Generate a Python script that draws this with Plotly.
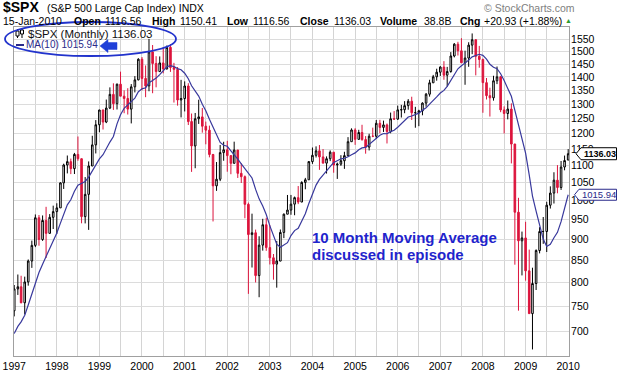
import math
import pandas as pd
import plotly.graph_objects as go

# ---------------- data (monthly $SPX, Jan 1997 .. Jan 2010) ----------------
months = pd.date_range("1997-01-01", "2010-01-01", freq="MS")

opens = [
    740.74, 786.16, 790.82, 757.12, 801.34, 848.28, 885.14, 954.29, 899.47, 947.28, 914.62, 955.40,
    970.43, 980.28, 1049.34, 1101.75, 1111.75, 1090.82, 1133.84, 1120.67, 957.28, 1017.01, 1098.67, 1163.63,
    1229.23, 1279.64, 1238.33, 1286.37, 1335.18, 1301.84, 1372.71, 1328.72, 1320.41, 1282.71, 1362.93, 1388.91,
    1469.25, 1394.46, 1366.42, 1498.58, 1452.43, 1420.60, 1454.60, 1430.83, 1517.68, 1436.52, 1429.40, 1314.95,
    1320.28, 1366.01, 1239.94, 1160.33, 1249.46, 1255.82, 1224.42, 1211.23, 1133.58, 1040.94, 1059.78, 1139.45,
    1148.08, 1130.20, 1106.73, 1147.39, 1076.92, 1067.14, 989.82, 911.62, 916.07, 815.28, 885.76, 936.31,
    879.82, 855.70, 841.15, 848.18, 916.92, 963.59, 974.50, 990.31, 1008.01, 995.97, 1050.71, 1058.20,
    1111.92, 1131.13, 1144.94, 1126.21, 1107.30, 1120.68, 1140.84, 1101.72, 1104.24, 1114.58, 1130.20, 1173.82,
    1211.92, 1181.27, 1203.60, 1180.59, 1156.85, 1191.50, 1191.33, 1234.18, 1220.33, 1228.81, 1207.01, 1249.48,
    1248.29, 1280.08, 1280.66, 1294.83, 1310.61, 1270.09, 1270.20, 1276.66, 1303.82, 1335.85, 1377.94, 1400.63,
    1418.30, 1438.24, 1406.82, 1420.86, 1482.37, 1530.62, 1503.35, 1455.27, 1473.99, 1526.75, 1549.38, 1481.14,
    1468.36, 1378.55, 1330.63, 1322.70, 1385.59, 1400.38, 1280.00, 1267.38, 1282.83, 1166.36, 968.75, 896.24,
    903.25, 825.88, 735.09, 797.87, 872.81, 919.14, 919.32, 987.48, 1020.62, 1057.08, 1036.19, 1095.63,
    1116.56,
]

highs = [
    794.67, 817.68, 814.90, 812.93, 851.87, 896.74, 962.92, 961.49, 960.32, 983.12, 963.90, 986.25,
    992.65, 1051.14, 1105.65, 1130.52, 1121.02, 1138.49, 1190.58, 1121.67, 1066.11, 1112.44, 1192.97, 1244.93,
    1280.37, 1281.21, 1316.55, 1360.94, 1375.98, 1375.06, 1420.33, 1350.02, 1357.74, 1373.17, 1403.27, 1473.10,
    1478.00, 1444.55, 1552.87, 1527.19, 1481.51, 1480.51, 1517.32, 1525.21, 1530.09, 1454.82, 1438.46, 1389.06,
    1383.37, 1376.38, 1267.42, 1269.30, 1315.93, 1286.62, 1239.78, 1226.27, 1135.52, 1110.61, 1163.38, 1173.62,
    1176.55, 1130.20, 1173.94, 1147.84, 1106.59, 1070.74, 994.46, 965.00, 924.02, 907.44, 951.57, 954.28,
    935.05, 864.64, 895.90, 924.24, 965.38, 1015.33, 1015.41, 1011.01, 1040.29, 1053.79, 1063.65, 1112.56,
    1155.38, 1158.98, 1163.23, 1150.57, 1127.74, 1146.34, 1140.84, 1108.96, 1131.54, 1142.05, 1188.46, 1217.33,
    1217.80, 1212.44, 1229.11, 1191.88, 1199.56, 1219.59, 1245.15, 1245.86, 1243.13, 1233.34, 1270.64, 1275.80,
    1294.90, 1297.57, 1310.88, 1318.16, 1326.70, 1290.68, 1280.42, 1306.74, 1340.28, 1389.45, 1407.89, 1431.81,
    1441.61, 1461.57, 1438.89, 1498.02, 1535.56, 1540.56, 1555.90, 1503.89, 1538.74, 1576.09, 1545.79, 1523.57,
    1471.77, 1396.02, 1359.68, 1404.57, 1440.24, 1404.05, 1292.17, 1313.15, 1303.04, 1167.03, 1007.51, 919.05,
    943.85, 875.01, 832.98, 875.63, 930.17, 956.23, 996.68, 1039.47, 1080.15, 1101.36, 1113.69, 1130.38,
    1150.41,
]

lows = [
    729.55, 773.43, 756.13, 733.54, 793.21, 832.57, 880.98, 884.37, 896.00, 855.27, 914.62, 925.52,
    912.83, 980.28, 1032.10, 1076.70, 1074.67, 1074.91, 1114.30, 939.98, 939.71, 923.32, 1098.67, 1136.89,
    1204.46, 1213.39, 1234.66, 1282.80, 1279.95, 1281.41, 1328.72, 1268.37, 1263.91, 1233.70, 1342.35, 1387.37,
    1350.14, 1325.07, 1346.62, 1339.40, 1361.09, 1420.60, 1413.89, 1429.40, 1419.44, 1305.79, 1294.90, 1254.07,
    1274.62, 1228.33, 1081.19, 1091.99, 1232.00, 1203.03, 1165.54, 1124.87, 944.75, 1026.76, 1054.31, 1114.51,
    1081.66, 1074.36, 1106.73, 1063.46, 1048.96, 952.92, 775.68, 833.44, 800.20, 768.63, 872.57, 872.10,
    840.34, 806.29, 788.90, 847.85, 902.83, 963.59, 962.10, 960.84, 990.36, 995.97, 1031.20, 1058.20,
    1105.08, 1124.44, 1087.16, 1107.23, 1076.32, 1113.32, 1078.78, 1060.72, 1099.18, 1090.19, 1127.60, 1173.76,
    1163.75, 1180.95, 1176.92, 1136.15, 1146.18, 1188.30, 1183.55, 1201.07, 1205.35, 1168.20, 1201.07, 1246.59,
    1245.74, 1253.61, 1268.42, 1280.74, 1245.34, 1219.29, 1224.54, 1261.30, 1290.93, 1327.10, 1377.76, 1385.93,
    1403.97, 1389.42, 1363.98, 1416.37, 1476.70, 1484.18, 1454.25, 1370.60, 1439.29, 1489.56, 1406.10, 1435.65,
    1270.05, 1316.75, 1256.98, 1312.75, 1373.07, 1272.00, 1200.44, 1247.45, 1106.42, 839.80, 741.02, 815.69,
    804.22, 734.52, 666.79, 783.94, 866.10, 888.86, 869.32, 978.51, 991.97, 1019.95, 1029.38, 1085.89,
    1116.56,
]

closes = [
    786.16, 790.82, 757.12, 801.34, 848.28, 885.14, 954.29, 899.47, 947.28, 914.62, 955.40, 970.43,
    980.28, 1049.34, 1101.75, 1111.75, 1090.82, 1133.84, 1120.67, 957.28, 1017.01, 1098.67, 1163.63, 1229.23,
    1279.64, 1238.33, 1286.37, 1335.18, 1301.84, 1372.71, 1328.72, 1320.41, 1282.71, 1362.93, 1388.91, 1469.25,
    1394.46, 1366.42, 1498.58, 1452.43, 1420.60, 1454.60, 1430.83, 1517.68, 1436.51, 1429.40, 1314.95, 1320.28,
    1366.01, 1239.94, 1160.33, 1249.46, 1255.82, 1224.42, 1211.23, 1133.58, 1040.94, 1059.78, 1139.45, 1148.08,
    1130.20, 1106.73, 1147.39, 1076.92, 1067.14, 989.82, 911.62, 916.07, 815.28, 885.76, 936.31, 879.82,
    855.70, 841.15, 848.18, 916.92, 963.59, 974.50, 990.31, 1008.01, 995.97, 1050.71, 1058.20, 1111.92,
    1131.13, 1144.94, 1126.21, 1107.30, 1120.68, 1140.84, 1101.72, 1104.24, 1114.58, 1130.20, 1173.82, 1211.92,
    1181.27, 1203.60, 1180.59, 1156.85, 1191.50, 1191.33, 1234.18, 1220.33, 1228.81, 1207.01, 1249.48, 1248.29,
    1280.08, 1280.66, 1294.83, 1310.61, 1270.09, 1270.20, 1276.66, 1303.82, 1335.85, 1377.94, 1400.63, 1418.30,
    1438.24, 1406.82, 1420.86, 1482.37, 1530.62, 1503.35, 1455.27, 1473.99, 1526.75, 1549.38, 1481.14, 1468.36,
    1378.55, 1330.63, 1322.70, 1385.59, 1400.38, 1280.00, 1267.38, 1282.83, 1166.36, 968.75, 896.24, 903.25,
    825.88, 735.09, 797.87, 872.81, 919.14, 919.32, 987.48, 1020.62, 1057.08, 1036.19, 1095.63, 1115.10,
    1136.03,
]

# closes Apr-Dec 1996 (needed to start the 10-month average in Jan 1997)
closes_1996_tail = [654.17, 669.12, 670.63, 639.95, 651.99, 687.31, 705.27, 757.02, 740.74]

y_ticks = [700, 750, 800, 850, 900, 950, 1000, 1050, 1100, 1150, 1200, 1250,
           1300, 1350, 1400, 1450, 1500, 1550]

ma_period = 10
all_closes = closes_1996_tail + closes
ma10 = [sum(all_closes[i - ma_period + 1:i + 1]) / ma_period
        for i in range(len(closes_1996_tail), len(all_closes))]

last_close = closes[-1]
last_ma = ma10[-1]

# ---------------- geometry helpers ----------------
W, H = 617, 372
ML, MR, MT, MB = 14, 48, 27, 16
PW, PH = W - ML - MR, H - MT - MB
Y_MIN, Y_MAX = 655, 1604
LMIN, LMAX = math.log10(Y_MIN), math.log10(Y_MAX)


def fx(p):
    return (p - ML) / PW


def fy(p):
    return (H - MB - p) / PH


def vy(v):  # data value -> paper y on the log axis
    return (math.log10(v) - LMIN) / (LMAX - LMIN)


FONT = "Arial, Liberation Sans, sans-serif"
RED = "#dc143c"
NAVY = "#38389c"
BLUE = "#1f24cc"

fig = go.Figure()
fig.add_trace(go.Candlestick(
    x=months, open=opens, high=highs, low=lows, close=closes,
    increasing=dict(line=dict(color="black", width=1), fillcolor="white"),
    decreasing=dict(line=dict(color=RED, width=1), fillcolor=RED),
    whiskerwidth=0, showlegend=False, hoverinfo="skip",
))
fig.add_trace(go.Scatter(
    x=months, y=ma10, mode="lines", line=dict(color=NAVY, width=1.2),
    showlegend=False, hoverinfo="skip",
))

annotations = []


def lbl(text, x, y, size=11, color="black", bold=False, anchor="left"):
    if bold:
        text = "<b>" + text + "</b>"
    annotations.append(dict(
        text=text, x=fx(x), y=fy(y), xref="paper", yref="paper",
        xanchor=anchor, yanchor="middle", showarrow=False,
        font=dict(family=FONT, size=size, color=color),
        borderpad=0, borderwidth=0,
    ))


# header
lbl("$SPX", 3, 7.5, size=14, bold=True)
lbl("(S&P 500 Large Cap Index) INDX", 47, 8, size=10.5)
lbl("© StockCharts.com", 484, 8, size=10.5, color="#808080")
header = [("15-Jan-2010", 3, False), ("Open", 74, True), ("1116.56", 105, False),
          ("High", 152, True), ("1150.41", 180, False), ("Low", 227, True),
          ("1116.56", 253, False), ("Close", 300, True), ("1136.03", 334, False),
          ("Volume", 380, True), ("38.8B", 424, False), ("Chg", 460, True),
          ("+20.93 (+1.88%)", 484, False)]
for t, x, b in header:
    lbl(t, x, 21, size=10.5, bold=b)
lbl("▲", 565, 21, size=7, color="#2e9a2e")

# in-chart legend
lbl("$SPX (Monthly) %.2f" % last_close, 28, 33.5, size=11.5, color="#111111")
lbl("MA(10) %.2f" % last_ma, 26, 45, size=10, color="#2a2a8a")

# annotation text
lbl("10 Month Moving Average", 312, 237, size=15, color=BLUE, bold=True)
lbl("discussed in episode", 312, 254, size=15, color=BLUE, bold=True)

# right-hand value tags
yc1 = vy(last_close)
yc2 = vy(last_ma)
annotations.append(dict(text="<b>%.2f</b>" % last_close, x=fx(583), y=yc1, xref="paper", yref="paper",
                        xanchor="left", yanchor="middle", showarrow=False,
                        font=dict(family=FONT, size=9, color="black"), borderpad=0))
annotations.append(dict(text="%.2f" % last_ma, x=fx(581), y=yc2, xref="paper", yref="paper",
                        xanchor="left", yanchor="middle", showarrow=False,
                        font=dict(family=FONT, size=9.5, color="#2a2a8a"), borderpad=0))

shapes = []


def tag_path(yc, tip, left, right, half):
    hy = half / PH
    return ("M %f %f L %f %f L %f %f L %f %f L %f %f Z" %
            (fx(tip), yc, fx(left), yc + hy, fx(right), yc + hy, fx(right), yc - hy, fx(left), yc - hy))


shapes.append(dict(type="path", xref="paper", yref="paper", path=tag_path(yc1, 576, 581, 616.5, 6),
                   line=dict(color="black", width=1), fillcolor="white", layer="above"))
shapes.append(dict(type="path", xref="paper", yref="paper", path=tag_path(yc2, 574.5, 579, 616.5, 5.5),
                   line=dict(color="#2a2a8a", width=1), fillcolor="white", layer="above"))

# legend icons
shapes.append(dict(type="line", xref="paper", yref="paper", x0=fx(17.5), x1=fx(17.5), y0=fy(29), y1=fy(38),
                   line=dict(color="black", width=1)))
shapes.append(dict(type="rect", xref="paper", yref="paper", x0=fx(16), x1=fx(19), y0=fy(31), y1=fy(36),
                   line=dict(color="black", width=1), fillcolor="white"))
shapes.append(dict(type="line", xref="paper", yref="paper", x0=fx(22), x1=fx(22), y0=fy(29), y1=fy(38),
                   line=dict(color="black", width=1)))
shapes.append(dict(type="rect", xref="paper", yref="paper", x0=fx(20.5), x1=fx(23.5), y0=fy(30), y1=fy(34),
                   line=dict(color="black", width=1), fillcolor="white"))
shapes.append(dict(type="line", xref="paper", yref="paper", x0=fx(16), x1=fx(24), y0=fy(45), y1=fy(45),
                   line=dict(color="#2a2a8a", width=2)))

# hand-drawn ellipse and arrow
shapes.append(dict(type="circle", xref="paper", yref="paper", x0=fx(5), x1=fx(176), y0=fy(22), y1=fy(56),
                   line=dict(color="#2233cc", width=1.8)))
arrow = [(100, 46), (108, 39.5), (108, 42.5), (117, 42.5), (117, 49.5), (108, 49.5), (108, 52.5)]
shapes.append(dict(type="path", xref="paper", yref="paper",
                   path="M " + " L ".join("%f %f" % (fx(a), fy(b)) for a, b in arrow) + " Z",
                   line=dict(color="#2040d8", width=0.5), fillcolor="#2040d8"))

fig.update_layout(
    width=W, height=H,
    margin=dict(l=ML, r=MR, t=MT, b=MB, pad=0, autoexpand=False),
    paper_bgcolor="white", plot_bgcolor="white",
    font=dict(family=FONT, size=11, color="black"),
    showlegend=False,
    annotations=annotations, shapes=shapes,
    xaxis=dict(
        type="date", range=["1996-12-30", "2010-01-08"],
        rangeslider=dict(visible=False),
        tick0="1997-01-01", dtick="M12", tickformat="%Y",
        showgrid=True, gridcolor="#d4d4d4", gridwidth=1,
        minor=dict(dtick="M6", tick0="1997-01-01", showgrid=True, gridcolor="#d4d4d4"),
        showline=True, linecolor="#a0a0a0", mirror=True, linewidth=1,
        ticks="", tickfont=dict(size=10.5, color="black"), zeroline=False, automargin=False,
    ),
    yaxis=dict(
        type="log", range=[LMIN, LMAX], side="right",
        tickvals=y_ticks, ticktext=[str(v) for v in y_ticks],
        showgrid=True, gridcolor="#dcdcdc", gridwidth=1,
        showline=True, linecolor="#a0a0a0", mirror=True, linewidth=1,
        ticks="", ticklabelstandoff=-1, tickfont=dict(size=10.5, color="black"), zeroline=False,
        automargin=False,
    ),
)

fig.write_html("out.html", config={"displayModeBar": False},
               post_script="document.body.style.margin='0';")
